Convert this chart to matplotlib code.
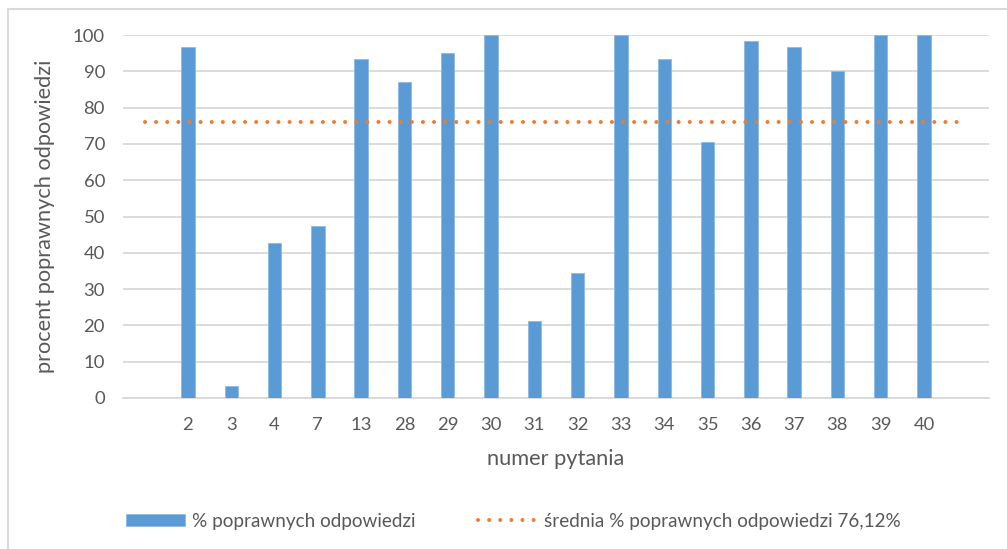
import matplotlib
matplotlib.use("Agg")
import matplotlib.pyplot as plt
from matplotlib.patches import Rectangle
import numpy as np

plt.rcParams['font.family'] = ['Lato', 'DejaVu Sans']

# dane
pytania = ['2', '3', '4', '7', '13', '28', '29', '30', '31', '32',
           '33', '34', '35', '36', '37', '38', '39', '40']
procent = [96.6, 3.4, 42.6, 47.3, 93.4, 87.0, 95.0, 100, 21.2, 34.4,
           100, 93.5, 70.6, 98.4, 96.6, 90.0, 100, 100]
srednia = 76.12

niebieski = '#5B9BD5'
pomaranczowy = '#ED7D31'
szary = '#595959'
siatka = '#D9D9D9'

W, H = 1007, 549
fig = plt.figure(figsize=(W / 100, H / 100), dpi=100)
ax = fig.add_axes([123 / W, 1 - 398 / H, (989 - 123) / W, (398 - 35) / H])

# jedna pusta kategoria na poczatku i na koncu (jak w Excelu)
x = np.arange(1, len(pytania) + 1)
bary = ax.bar(x, procent, width=0.31, color=niebieski, edgecolor='#8DB9E3',
              linewidth=0.6, zorder=3, label='% poprawnych odpowiedzi')
linia, = ax.plot([0, len(pytania) + 1], [srednia, srednia], color=pomaranczowy,
                 lw=2.9, linestyle=(0, (0.01, 2.75)), dash_capstyle='round',
                 zorder=4, label='średnia % poprawnych odpowiedzi 76,12%')

ax.set_xlim(-0.5, len(pytania) + 1.5)
ax.set_ylim(0, 100)
ax.set_yticks(range(0, 101, 10))
ax.set_xticks(x)
ax.set_xticklabels(pytania)
ax.grid(axis='y', color=siatka, lw=1.3, zorder=0)
ax.set_axisbelow(True)
for s in ['top', 'right', 'left']:
    ax.spines[s].set_visible(False)
ax.spines['bottom'].set_color(siatka)
ax.spines['bottom'].set_linewidth(1.3)
ax.spines['bottom'].set_zorder(2)
ax.tick_params(axis='both', length=0, labelsize=13.3, colors=szary)
ax.tick_params(axis='x', pad=14)
ax.tick_params(axis='y', pad=13)

ax.set_xlabel('numer pytania', fontsize=15.7, color=szary, labelpad=11)
ax.set_ylabel('procent poprawnych odpowiedzi', fontsize=15.7, color=szary, labelpad=13)

leg = fig.legend(handles=[bary, linia], loc='center left',
                 bbox_to_anchor=(109 / W, 1 - 521 / H), ncol=2, frameon=False,
                 fontsize=13.6, handlelength=3.1, handleheight=0.55,
                 handletextpad=0.4, columnspacing=3.3, labelcolor=szary)

# ramka wykresu
fig.patches.append(Rectangle((8 / W, -0.05), 1.1, 1 - 9 / H + 0.05,
                             transform=fig.transFigure, fill=False,
                             edgecolor=siatka, lw=1.5))

fig.savefig('out.png', dpi=100)
